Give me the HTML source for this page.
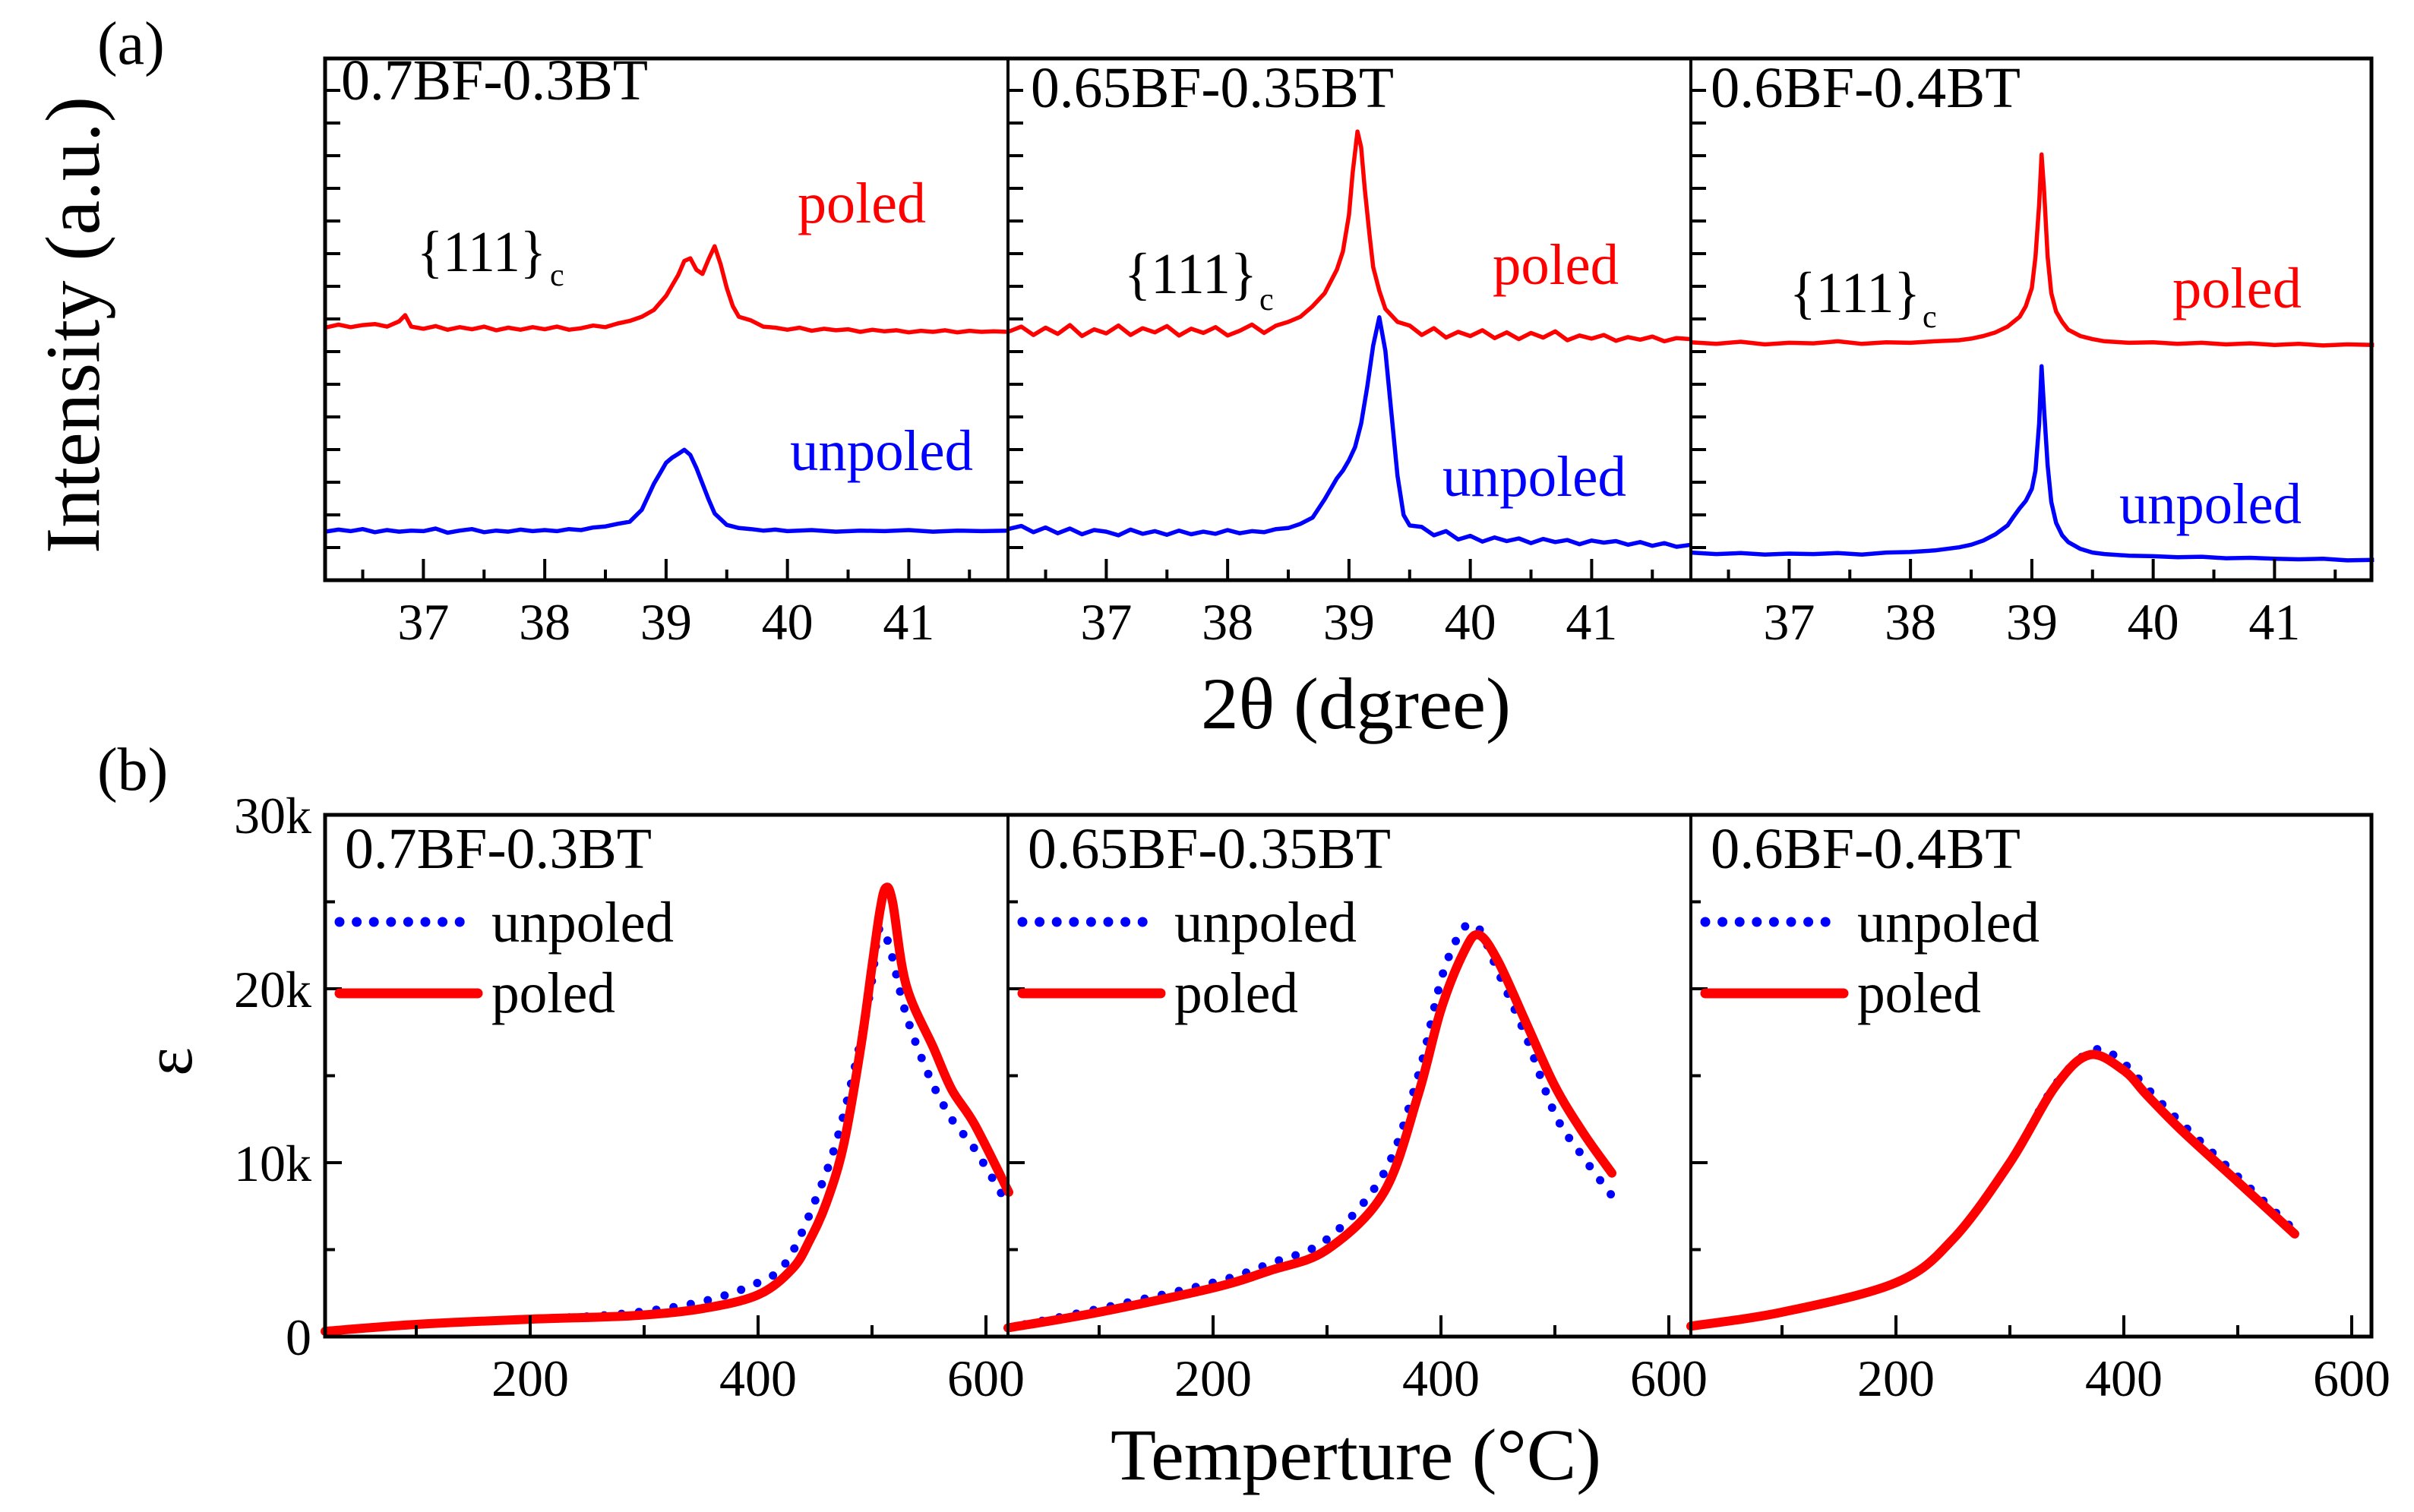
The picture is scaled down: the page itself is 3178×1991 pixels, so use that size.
<!DOCTYPE html>
<html><head><meta charset="utf-8">
<style>
html,body{margin:0;padding:0;background:#fff;}
svg{display:block;}
text{font-family:"Liberation Serif",serif;}
</style></head>
<body>
<svg id="fig" width="3178" height="1991" viewBox="0 0 3178 1991" xmlns="http://www.w3.org/2000/svg">
<rect x="0" y="0" width="3178" height="1991" fill="#fff"/>
<g id="plots"></g>
<text x="128" y="84" font-size="80">(a)</text>
<text x="128" y="1040" font-size="80">(b)</text>
<text transform="translate(130,428) rotate(-90)" text-anchor="middle" font-size="102" textLength="602" lengthAdjust="spacingAndGlyphs">Intensity (a.u.)</text>
<text x="1785" y="959" text-anchor="middle" font-size="96" textLength="408" lengthAdjust="spacingAndGlyphs">2θ (dgree)</text>
<text transform="translate(252,1398) rotate(-90)" text-anchor="middle" font-size="90">ε</text>
<text x="1785" y="1948" text-anchor="middle" font-size="96" textLength="646" lengthAdjust="spacingAndGlyphs">Temperture (°C)</text>
</svg>
<script>
// ---------- XRD data (panel a) ----------
const xrdPanels = ["0.7BF-0.3BT", "0.65BF-0.35BT", "0.6BF-0.4BT"];
const xrdTicks = [37, 38, 39, 40, 41];
const xrdTickLabels = ["37", "38", "39", "40", "41"];
const p1PoledX = [36.19,36.3,36.4,36.5,36.6,36.7,36.8,36.85,36.9,37.0,37.1,37.2,37.3,37.4,37.5,37.6,37.7,37.8,37.9,38.0,38.1,38.2,38.3,38.4,38.5,38.6,38.7,38.8,38.9,39.0,39.1,39.15,39.2,39.25,39.3,39.35,39.4,39.45,39.5,39.55,39.6,39.7,39.8,39.9,40.0,40.1,40.2,40.3,40.4,40.5,40.6,40.7,40.8,40.9,41.0,41.1,41.2,41.3,41.4,41.5,41.6,41.7,41.82];
const p1PoledY = [48.4,49.0,48.5,48.9,49.1,48.6,49.6,50.8,48.6,48.2,48.7,48.0,48.5,48.1,48.6,47.9,48.4,48.0,48.5,48.1,48.6,48.0,48.3,48.8,48.5,49.2,49.7,50.5,51.8,54.5,58.5,61.2,61.7,59.5,58.7,61.5,64.0,60.5,56.0,52.5,50.5,49.8,48.6,48.4,48.0,48.4,47.8,48.2,47.9,48.1,47.6,48.0,47.7,47.9,47.5,47.8,47.6,47.9,47.5,47.8,47.6,47.7,47.6];
const p1UnpoledX = [36.19,36.3,36.4,36.5,36.6,36.7,36.8,36.9,37.0,37.1,37.2,37.3,37.4,37.5,37.6,37.7,37.8,37.9,38.0,38.1,38.2,38.3,38.4,38.5,38.6,38.7,38.8,38.85,38.9,38.95,39.0,39.05,39.1,39.15,39.2,39.25,39.3,39.35,39.4,39.5,39.6,39.7,39.8,39.9,40.0,40.2,40.4,40.6,40.8,41.0,41.2,41.4,41.6,41.82];
const p1UnpoledY = [9.3,9.7,9.4,9.8,9.2,9.6,9.3,9.5,9.4,9.9,9.1,9.5,9.8,9.2,9.5,9.3,9.7,9.4,9.6,9.4,9.8,9.6,10.1,10.3,10.8,11.2,13.5,16.0,18.5,20.5,22.5,23.5,24.2,25.0,24.0,21.5,18.5,15.5,12.8,10.6,10.0,9.8,9.5,9.7,9.4,9.6,9.3,9.5,9.4,9.6,9.3,9.5,9.4,9.5];
const p2PoledX = [36.19,36.3,36.4,36.5,36.6,36.7,36.8,36.9,37.0,37.1,37.2,37.3,37.4,37.5,37.6,37.7,37.8,37.9,38.0,38.1,38.2,38.3,38.4,38.5,38.6,38.7,38.8,38.9,38.95,39.0,39.03,39.07,39.1,39.13,39.17,39.2,39.25,39.3,39.4,39.5,39.6,39.7,39.8,39.9,40.0,40.1,40.2,40.3,40.4,40.5,40.6,40.7,40.8,40.9,41.0,41.1,41.2,41.3,41.4,41.5,41.6,41.7,41.82];
const p2PoledY = [47.6,48.6,47.0,48.4,47.2,48.9,46.8,48.1,47.3,48.8,47.0,48.3,47.5,48.7,46.9,48.2,47.4,48.5,46.9,47.8,49.0,47.4,48.8,49.5,50.5,52.5,55.0,59.5,63.0,70.0,78.0,86.0,83.0,75.0,66.0,60.0,55.5,52.0,49.5,48.8,47.0,48.3,46.5,47.6,46.8,47.9,46.4,47.5,46.2,47.4,46.5,47.7,46.0,46.9,46.3,47.0,45.9,46.6,46.1,46.7,45.8,46.4,46.2];
const p2UnpoledX = [36.19,36.3,36.4,36.5,36.6,36.7,36.8,36.9,37.0,37.1,37.2,37.3,37.4,37.5,37.6,37.7,37.8,37.9,38.0,38.1,38.2,38.3,38.4,38.5,38.6,38.7,38.8,38.9,38.95,39.0,39.05,39.1,39.15,39.2,39.25,39.3,39.35,39.4,39.45,39.5,39.6,39.7,39.8,39.9,40.0,40.1,40.2,40.3,40.4,40.5,40.6,40.7,40.8,40.9,41.0,41.1,41.2,41.3,41.4,41.5,41.6,41.7,41.82];
const p2UnpoledY = [9.8,10.4,9.2,10.1,9.0,9.9,8.8,9.6,9.3,8.6,9.7,8.9,9.4,8.7,9.5,8.8,9.3,8.9,9.6,9.0,9.4,9.2,9.8,10.0,10.8,12.0,15.5,19.5,21.0,23.0,25.5,30.0,37.0,45.0,50.4,44.0,32.0,20.0,12.5,10.5,10.2,8.6,9.4,7.8,8.5,7.4,8.2,7.5,8.0,7.1,7.9,7.3,7.7,6.9,7.6,7.2,7.5,6.8,7.3,6.6,7.1,6.4,6.8];
const p3PoledX = [36.19,36.4,36.6,36.8,37.0,37.2,37.4,37.6,37.8,38.0,38.2,38.4,38.5,38.6,38.7,38.8,38.9,38.95,39.0,39.03,39.06,39.08,39.1,39.13,39.16,39.2,39.25,39.3,39.4,39.5,39.6,39.8,40.0,40.2,40.4,40.6,40.8,41.0,41.2,41.4,41.6,41.82];
const p3PoledY = [45.6,45.3,45.7,45.2,45.5,45.4,45.8,45.3,45.6,45.5,45.8,46.0,46.3,46.8,47.5,48.6,50.5,52.5,56.0,62.0,72.0,81.6,75.0,62.0,55.0,51.5,49.5,48.0,46.8,46.2,45.8,45.5,45.6,45.3,45.5,45.2,45.4,45.1,45.3,45.0,45.2,45.1];
const p3UnpoledX = [36.19,36.4,36.6,36.8,37.0,37.2,37.4,37.6,37.8,38.0,38.2,38.4,38.5,38.6,38.7,38.8,38.85,38.9,38.95,39.0,39.03,39.06,39.08,39.1,39.13,39.16,39.2,39.25,39.3,39.4,39.5,39.6,39.8,40.0,40.2,40.4,40.6,40.8,41.0,41.2,41.4,41.6,41.82];
const p3UnpoledY = [5.3,5.0,5.2,4.9,5.1,5.0,5.2,4.9,5.3,5.4,5.7,6.3,6.8,7.6,8.8,10.5,12.2,13.8,15.2,17.5,21.0,30.0,41.0,33.0,22.0,15.0,11.0,8.6,7.3,6.0,5.3,5.0,4.7,4.6,4.4,4.5,4.2,4.3,4.1,4.0,4.1,3.8,3.9];
const xrdSeries = [
  [[p1PoledX,p1PoledY,"#f00"],[p1UnpoledX,p1UnpoledY,"#00f"]],
  [[p2PoledX,p2PoledY,"#f00"],[p2UnpoledX,p2UnpoledY,"#00f"]],
  [[p3PoledX,p3PoledY,"#f00"],[p3UnpoledX,p3UnpoledY,"#00f"]]
];

// ---------- dielectric data (panel b) ----------
const epsTicks = [0, 10, 20, 30];
const epsTickLabels = ["0", "10k", "20k", "30k"];
const tempTicks = [200, 400, 600];
const tempTickLabels = ["200", "400", "600"];
const b1PoledT = [20,100,200,290,350,400,430,445,460,475,490,500,507,512,518,530,554,570,590,620];
const b1PoledE = [0.3,0.7,1.0,1.2,1.6,2.4,3.9,5.5,7.7,11.0,16.6,21.3,24.5,25.8,25.0,20.2,16.6,14.2,12.2,8.3];
const b1UnpoledT = [20,100,200,280,350,400,425,450,470,490,500,506,515,530,550,570,590,620];
const b1UnpoledE = [0.3,0.7,1.0,1.3,2.0,3.1,4.3,7.8,11.5,17.0,20.5,23.4,22.5,18.5,15.0,12.5,10.8,7.5];
const b2PoledT = [20,100,200,250,300,350,380,400,420,433,450,475,500,525,550];
const b2PoledE = [0.5,1.4,2.8,3.8,5.0,8.3,13.9,18.8,22.1,23.1,21.6,18.0,14.4,11.7,9.4];
const b2UnpoledT = [20,100,200,250,300,350,380,400,415,425,435,450,475,500,525,550];
const b2UnpoledE = [0.5,1.6,3.1,4.2,5.6,9.4,15.0,20.5,23.0,23.7,23.3,21.0,17.2,12.8,10.3,8.1];
const b3PoledT = [20,100,200,250,300,340,370,400,420,450,500,550];
const b3PoledE = [0.6,1.4,3.1,5.6,10.0,14.4,16.2,15.3,13.9,11.9,8.9,5.9];
const b3UnpoledT = [20,100,200,250,300,340,375,400,420,450,500,550];
const b3UnpoledE = [0.6,1.4,3.1,5.6,10.0,14.5,16.5,15.7,14.3,12.3,9.2,6.1];
const dielSeries = [
  [[b1UnpoledT,b1UnpoledE,"u"],[b1PoledT,b1PoledE,"p"]],
  [[b2UnpoledT,b2UnpoledE,"u"],[b2PoledT,b2PoledE,"p"]],
  [[b3UnpoledT,b3UnpoledE,"u"],[b3PoledT,b3PoledE,"p"]]
];

// ---------- layout ----------
const NS = "http://www.w3.org/2000/svg";
const root = document.getElementById("plots");
const panelX0 = [428, 1327, 2226];
const aTop = 77, aBot = 764, bTop = 1073, bBot = 1760;
function xA(i, d){ return panelX0[i] + (d - 36.19) * 159.75; }
function yA(v){ return aBot - v * 6.87; }
function xB(i, t){ return panelX0[i] + (t - 20) * 1.5; }
function yB(k){ return bBot - k * 22.9; }
function mk(tag, attrs, parent){
  const e = document.createElementNS(NS, tag);
  for (const k in attrs) e.setAttribute(k, attrs[k]);
  (parent || root).appendChild(e);
  return e;
}
function txt(x, y, s, size, fill, anchor, parent){
  const t = mk("text", {x:x, y:y, "font-size":size, fill:fill || "#000", "text-anchor":anchor || "start"}, parent);
  t.textContent = s;
  return t;
}
function smoothPath(pts){
  let d = "M" + pts[0][0].toFixed(1) + "," + pts[0][1].toFixed(1);
  for (let j = 0; j < pts.length - 1; j++) {
    const p0 = pts[Math.max(j - 1, 0)], p1 = pts[j], p2 = pts[j + 1], p3 = pts[Math.min(j + 2, pts.length - 1)];
    const c1x = p1[0] + (p2[0] - p0[0]) / 6, c1y = p1[1] + (p2[1] - p0[1]) / 6;
    const c2x = p2[0] - (p3[0] - p1[0]) / 6, c2y = p2[1] - (p3[1] - p1[1]) / 6;
    d += "C" + c1x.toFixed(1) + "," + c1y.toFixed(1) + " " + c2x.toFixed(1) + "," + c2y.toFixed(1) + " " + p2[0].toFixed(1) + "," + p2[1].toFixed(1);
  }
  return d;
}

const aLabels = [
  {title:[449,131,404], mil:[549,357,170], c:[724,376], poled:[1050,293,169], unpoled:[1040,619,241]},
  {title:[1357,141,478], mil:[1480,386,175], c:[1658,408], poled:[1965,374,166], unpoled:[1899,653,242]},
  {title:[2252,141,408], mil:[2356,411,172], c:[2531,431], poled:[2860,405,170], unpoled:[2790,689,240]}
];

for (let i = 0; i < 3; i++) {
  // ----- panel a -----
  const ga = mk("g", {});
  
  
  xrdSeries[i].forEach(function(s){
    let d = "";
    const n = Math.min(s[0].length, s[1].length);
    for (let j = 0; j < n; j++) d += (j ? "L" : "M") + xA(i, s[0][j]).toFixed(1) + "," + yA(s[1][j]).toFixed(1);
    const p = mk("path", {d:d, fill:"none", stroke:s[2], "stroke-width":5.5, "stroke-linejoin":"round"}, ga);
    
    
  });
  for (let y = aBot - 43; y > aTop + 10; y -= 43) mk("line", {x1:panelX0[i], x2:panelX0[i] + 20, y1:y, y2:y, stroke:"#000", "stroke-width":4}, ga);
  for (let d = 36.5; d < 41.9; d += 0.5) {
    const major = Math.abs(d - Math.round(d)) < 0.01;
    mk("line", {x1:xA(i, d), x2:xA(i, d), y1:aBot, y2:aBot - (major ? 28 : 14), stroke:"#000", "stroke-width":4}, ga);
  }
  xrdTicks.forEach(function(v, k){
    const t = txt(xA(i, v), 842, xrdTickLabels[k], 68, "#000", "middle", ga);
    
    
  });
  const L = aLabels[i];
  const tt = txt(L.title[0], L.title[1], xrdPanels[i], 76, "#000", "start", ga);
  tt.setAttribute("textLength", L.title[2]); tt.setAttribute("lengthAdjust", "spacingAndGlyphs");
  
  
  const mt = txt(L.mil[0], L.mil[1], "{111}", 76, "#000", "start", ga);
  mt.setAttribute("textLength", L.mil[2]); mt.setAttribute("lengthAdjust", "spacingAndGlyphs");
  
  
  const ct = txt(L.c[0], L.c[1], "c", 42, "#000", "start", ga);
  
  
  const pt = txt(L.poled[0], L.poled[1], "poled", 76, "#f00", "start", ga);
  pt.setAttribute("textLength", L.poled[2]); pt.setAttribute("lengthAdjust", "spacingAndGlyphs");
  
  
  const ut = txt(L.unpoled[0], L.unpoled[1], "unpoled", 76, "#00f", "start", ga);
  ut.setAttribute("textLength", L.unpoled[2]); ut.setAttribute("lengthAdjust", "spacingAndGlyphs");
  
  

  // ----- panel b -----
  const gb = mk("g", {});
  
  
  dielSeries[i].forEach(function(s){
    const n = Math.min(s[0].length, s[1].length);
    const pts = [];
    for (let j = 0; j < n; j++) pts.push([xB(i, s[0][j]), yB(s[1][j])]);
    const d = smoothPath(pts);
    let p;
    if (s[2] === "u") {
      p = mk("path", {d:d, fill:"none", stroke:"#00f", "stroke-width":11, "stroke-linecap":"round", "stroke-dasharray":"0 23"}, gb);
      
    } else {
      p = mk("path", {d:d, fill:"none", stroke:"#f00", "stroke-width":12, "stroke-linecap":"round", "stroke-linejoin":"round"}, gb);
      
    }
    
  });
  for (let k = 5; k < 30; k += 5) {
    const major = k % 10 === 0;
    mk("line", {x1:panelX0[i], x2:panelX0[i] + (major ? 22 : 13), y1:yB(k), y2:yB(k), stroke:"#000", "stroke-width":4}, gb);
  }
  for (let t = 100; t <= 600; t += 100) {
    const major = t % 200 === 0;
    mk("line", {x1:xB(i, t), x2:xB(i, t), y1:bBot, y2:bBot - (major ? 28 : 15), stroke:"#000", "stroke-width":4}, gb);
  }
  tempTicks.forEach(function(v, k){
    const t = txt(xB(i, v), 1838, tempTickLabels[k], 68, "#000", "middle", gb);
    
    
  });
  const bx = panelX0[i];
  const bt = txt(bx + 26, 1143, xrdPanels[i], 76, "#000", "start", gb);
  bt.setAttribute("textLength", L.title[2]); bt.setAttribute("lengthAdjust", "spacingAndGlyphs");
  
  
  const lg = mk("g", {}, gb);
  
  
  mk("line", {x1:bx + 19, x2:bx + 189, y1:1214, y2:1214, stroke:"#00f", "stroke-width":13, "stroke-linecap":"round", "stroke-dasharray":"0 22.6"}, lg);
  mk("line", {x1:bx + 19, x2:bx + 201, y1:1308, y2:1308, stroke:"#f00", "stroke-width":13, "stroke-linecap":"round"}, lg);
  const lu = txt(bx + 219, 1240, "unpoled", 76, "#000", "start", lg);
  lu.setAttribute("textLength", 240); lu.setAttribute("lengthAdjust", "spacingAndGlyphs");
  
  
  const lp = txt(bx + 219, 1333, "poled", 76, "#000", "start", lg);
  lp.setAttribute("textLength", 163); lp.setAttribute("lengthAdjust", "spacingAndGlyphs");
  
  
}
epsTicks.forEach(function(v, k){
  const t = txt(410, yB(v) + 24, epsTickLabels[k], 68, "#000", "end");
  
  
});
[[aTop, aBot, 'xrd-frame'], [bTop, bBot, 'dielectric-frame']].forEach(function(f){
  const r = mk("rect", {x:428, y:f[0], width:3122 - 428, height:f[1] - f[0], fill:"none", stroke:"#000", "stroke-width":5});
  
  
  [1327, 2226].forEach(function(x){
    const l = mk("line", {x1:x, x2:x, y1:f[0], y2:f[1], stroke:"#000", "stroke-width":4});
    
    
  });
});
</script>
</body></html>
